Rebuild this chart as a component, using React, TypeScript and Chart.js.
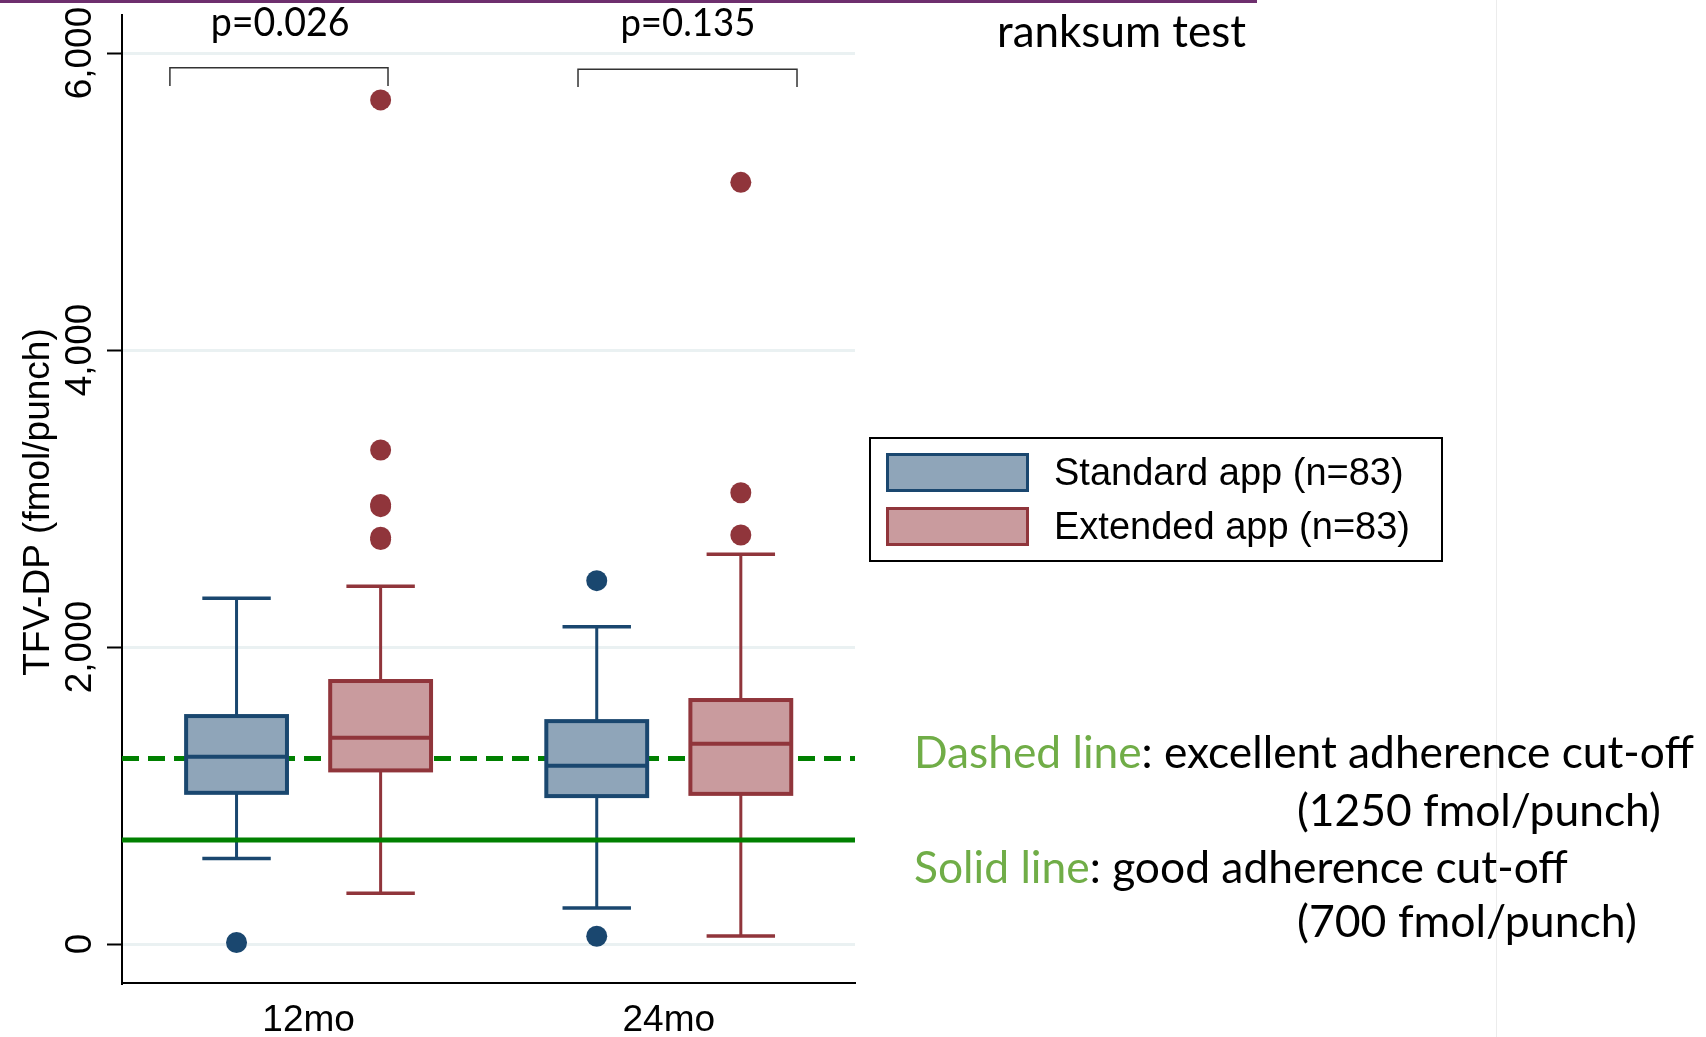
import React, { useEffect, useRef } from 'react';
import { Chart, registerables } from 'chart.js';

Chart.register(...registerables);

// ---------------- data ----------------
const categories = ['12mo', '24mo'];
const seriesLabels = ['Standard app (n=83)', 'Extended app (n=83)'];
const yTickValues = [0, 2000, 4000, 6000];

const standardLowerWhisker = [575, 243];
const standardQ1 = [1018, 996];
const standardMedian = [1261, 1200];
const standardQ3 = [1535, 1501];
const standardUpperWhisker = [2328, 2137];
const standardOutliers12 = [10];
const standardOutliers24 = [2447, 52];

const extendedLowerWhisker = [342, 54];
const extendedQ1 = [1169, 1011];
const extendedMedian = [1389, 1348];
const extendedQ3 = [1771, 1643];
const extendedUpperWhisker = [2409, 2625];
const extendedOutliers12 = [5684, 3327, 2960, 2945, 2739, 2724];
const extendedOutliers24 = [5129, 3039, 2754];

const excellentCutoff = 1250;
const goodCutoff = 700;
const pValueLabels = ['p=0.026', 'p=0.135'];
const testLabel = 'ranksum test';
const yAxisTitle = 'TFV-DP (fmol/punch)';
const noteLines = [
  { green: 'Dashed line', black: ': excellent adherence cut-off' },
  { green: '', black: '(1250 fmol/punch)' },
  { green: 'Solid line', black: ': good adherence cut-off' },
  { green: '', black: '(700 fmol/punch)' },
];

// ---------------- styles / layout ----------------
const STD_FILL = '#8FA5B9';
const STD_LINE = '#1A476F';
const EXT_FILL = '#C99B9E';
const EXT_LINE = '#90353B';
const GREEN = '#008000';
const NOTE_GREEN = '#70AD47';
const ARIAL = '"Liberation Sans", Arial, sans-serif';
const CAL = 'Lato, "Open Sans", sans-serif';

const X_MIN = 0.482;
const X_MAX = 2.517;
const Y_MIN = -262.6;
const Y_MAX = 6256;
const GROUP_OFFSET = [-0.2, 0.2];
const BOX_HALF = 0.14;
const CAP_HALF = 0.095;

const BRACKETS = [
  { x0: 0.615, x1: 1.2205, top: 5900, bottom: 5778 },
  { x0: 1.748, x1: 2.356, top: 5890, bottom: 5771 },
];
const P_POS = [
  { x: 0.921, baseline: 36, width: 139 },
  { x: 2.053, baseline: 36, width: 135 },
];
const NOTE_POS = [
  { x: 914, baseline: 768, width: 780 },
  { x: 1297, baseline: 826, width: 364 },
  { x: 914, baseline: 883, width: 654 },
  { x: 1297, baseline: 937, width: 340 },
];

function fitSize(ctx: CanvasRenderingContext2D, text: string, family: string, width: number) {
  ctx.font = `100px ${family}`;
  const w = ctx.measureText(text).width;
  return (100 * width) / w;
}

function drawBoxes(chart: any) {
  const ctx: CanvasRenderingContext2D = chart.ctx;
  const xs = chart.scales.x;
  const ys = chart.scales.y;
  const unit = xs.getPixelForValue(2) - xs.getPixelForValue(1);
  const groups = [
    { lw: standardLowerWhisker, q1: standardQ1, med: standardMedian, q3: standardQ3, uw: standardUpperWhisker, fill: STD_FILL, line: STD_LINE },
    { lw: extendedLowerWhisker, q1: extendedQ1, med: extendedMedian, q3: extendedQ3, uw: extendedUpperWhisker, fill: EXT_FILL, line: EXT_LINE },
  ];
  categories.forEach((_, i) => {
    groups.forEach((g, s) => {
      const cx = xs.getPixelForValue(i + 1 + GROUP_OFFSET[s]);
      const hw = BOX_HALF * unit;
      const cw = CAP_HALF * unit;
      const pLw = ys.getPixelForValue(g.lw[i]);
      const pQ1 = ys.getPixelForValue(g.q1[i]);
      const pMed = ys.getPixelForValue(g.med[i]);
      const pQ3 = ys.getPixelForValue(g.q3[i]);
      const pUw = ys.getPixelForValue(g.uw[i]);
      ctx.save();
      ctx.strokeStyle = g.line;
      ctx.lineWidth = 3;
      ctx.beginPath();
      ctx.moveTo(cx, pUw);
      ctx.lineTo(cx, pQ3);
      ctx.moveTo(cx, pQ1);
      ctx.lineTo(cx, pLw);
      ctx.stroke();
      ctx.lineWidth = 3.5;
      ctx.beginPath();
      ctx.moveTo(cx - cw, pUw);
      ctx.lineTo(cx + cw, pUw);
      ctx.moveTo(cx - cw, pLw);
      ctx.lineTo(cx + cw, pLw);
      ctx.stroke();
      ctx.fillStyle = g.fill;
      ctx.fillRect(cx - hw, pQ3, 2 * hw, pQ1 - pQ3);
      ctx.lineWidth = 4;
      ctx.strokeRect(cx - hw, pQ3, 2 * hw, pQ1 - pQ3);
      ctx.beginPath();
      ctx.moveTo(cx - hw, pMed);
      ctx.lineTo(cx + hw, pMed);
      ctx.stroke();
      ctx.restore();
    });
  });
}

function drawAnnotations(chart: any) {
  const ctx: CanvasRenderingContext2D = chart.ctx;
  const xs = chart.scales.x;
  const ys = chart.scales.y;
  ctx.save();

  // slide decorations
  ctx.fillStyle = '#6E2F6E';
  ctx.fillRect(0, 0, 1257, 3);
  ctx.fillStyle = '#ECECEC';
  ctx.fillRect(1496, 0, 1, 1037);

  // y tick labels (rotated)
  ctx.fillStyle = '#000';
  ctx.font = `37px ${ARIAL}`;
  ctx.textAlign = 'center';
  ctx.textBaseline = 'alphabetic';
  ys.ticks.forEach((t: any) => {
    const py = ys.getPixelForValue(t.value);
    ctx.save();
    ctx.translate(91, py);
    ctx.rotate(-Math.PI / 2);
    ctx.fillText(Number(t.value).toLocaleString('en-US'), 0, 0);
    ctx.restore();
  });

  // y axis title
  ctx.save();
  ctx.translate(48.5, 502);
  ctx.rotate(-Math.PI / 2);
  ctx.fillText(yAxisTitle, 0, 0);
  ctx.restore();

  // brackets
  ctx.strokeStyle = '#333';
  ctx.lineWidth = 1.5;
  BRACKETS.forEach((b) => {
    const x0 = xs.getPixelForValue(b.x0);
    const x1 = xs.getPixelForValue(b.x1);
    const yt = ys.getPixelForValue(b.top);
    const yb = ys.getPixelForValue(b.bottom);
    ctx.beginPath();
    ctx.moveTo(x0, yb);
    ctx.lineTo(x0, yt);
    ctx.lineTo(x1, yt);
    ctx.lineTo(x1, yb);
    ctx.stroke();
  });

  // p values
  pValueLabels.forEach((txt, i) => {
    const pos = P_POS[i];
    const size = fitSize(ctx, txt, CAL, pos.width);
    ctx.font = `${size}px ${CAL}`;
    ctx.textAlign = 'center';
    ctx.fillStyle = '#000';
    ctx.save();
    ctx.translate(xs.getPixelForValue(pos.x), pos.baseline);
    ctx.scale(1, 1.08);
    ctx.fillText(txt, 0, 0);
    ctx.restore();
  });

  // test label
  {
    const size = fitSize(ctx, testLabel, CAL, 249);
    ctx.font = `${size}px ${CAL}`;
    ctx.textAlign = 'left';
    ctx.fillText(testLabel, 997, 47);
  }

  // legend
  ctx.lineWidth = 2;
  ctx.strokeStyle = '#000';
  ctx.strokeRect(870, 438, 572, 123);
  const sw = [
    { fill: STD_FILL, line: STD_LINE, top: 454.5, base: 485 },
    { fill: EXT_FILL, line: EXT_LINE, top: 508.5, base: 539 },
  ];
  sw.forEach((s, i) => {
    ctx.fillStyle = s.fill;
    ctx.fillRect(887.5, s.top, 140, 36);
    ctx.strokeStyle = s.line;
    ctx.lineWidth = 3;
    ctx.strokeRect(887.5, s.top, 140, 36);
    ctx.fillStyle = '#000';
    ctx.font = `38px ${ARIAL}`;
    ctx.textAlign = 'left';
    ctx.fillText(seriesLabels[i], 1054, s.base);
  });

  // notes
  noteLines.forEach((ln, i) => {
    const pos = NOTE_POS[i];
    const full = ln.green + ln.black;
    const size = fitSize(ctx, full, CAL, pos.width);
    ctx.font = `${size}px ${CAL}`;
    ctx.textAlign = 'left';
    let x = pos.x;
    if (ln.green) {
      ctx.fillStyle = NOTE_GREEN;
      ctx.fillText(ln.green, x, pos.baseline);
      x += ctx.measureText(ln.green).width;
    }
    ctx.fillStyle = '#000';
    ctx.fillText(ln.black, x, pos.baseline);
  });

  ctx.restore();
}

const boxPlugin = {
  id: 'boxplotDraw',
  afterDatasetDraw(chart: any, args: any) {
    if (args.index === 3) drawBoxes(chart);
  },
  afterDraw(chart: any) {
    drawAnnotations(chart);
  },
};

export default function App() {
  const ref = useRef<HTMLCanvasElement>(null);
  useEffect(() => {
    const canvas = ref.current!;
    const extPoints = [
      ...extendedOutliers12.map((v) => ({ x: 1 + GROUP_OFFSET[1], y: v })),
      ...extendedOutliers24.map((v) => ({ x: 2 + GROUP_OFFSET[1], y: v })),
    ];
    const stdPoints = [
      ...standardOutliers12.map((v) => ({ x: 1 + GROUP_OFFSET[0], y: v })),
      ...standardOutliers24.map((v) => ({ x: 2 + GROUP_OFFSET[0], y: v })),
    ];
    const chart = new Chart(canvas, {
      type: 'scatter',
      data: {
        datasets: [
          { label: seriesLabels[1], data: extPoints, pointRadius: 10.5, pointBackgroundColor: EXT_LINE, pointBorderWidth: 0, showLine: false } as any,
          { label: seriesLabels[0], data: stdPoints, pointRadius: 10.5, pointBackgroundColor: STD_LINE, pointBorderWidth: 0, showLine: false } as any,
          { label: 'good', data: [{ x: X_MIN, y: goodCutoff }, { x: X_MAX, y: goodCutoff }], showLine: true, borderColor: GREEN, borderWidth: 5, pointRadius: 0 } as any,
          { label: 'excellent', data: [{ x: X_MIN, y: excellentCutoff }, { x: X_MAX, y: excellentCutoff }], showLine: true, borderColor: GREEN, borderWidth: 5, borderDash: [17, 9], pointRadius: 0 } as any,
        ],
      },
      options: {
        animation: false,
        responsive: false,
        devicePixelRatio: 1,
        layout: { padding: { left: 0, top: 15, right: 851, bottom: 0 } },
        plugins: { legend: { display: false }, tooltip: { enabled: false } },
        scales: {
          x: {
            type: 'linear',
            min: X_MIN,
            max: X_MAX,
            afterBuildTicks: (s: any) => {
              s.ticks = categories.map((_, i) => ({ value: i + 1 }));
            },
            afterFit: (s: any) => {
              s.height = 54;
            },
            ticks: {
              callback: (v: any) => categories[Math.round(Number(v)) - 1] ?? '',
              font: { family: ARIAL, size: 37 },
              color: '#000',
              padding: 16,
              maxRotation: 0,
              autoSkip: false,
            },
            grid: { display: false, drawTicks: false },
            border: { display: true, color: '#000', width: 2 },
          },
          y: {
            type: 'linear',
            min: Y_MIN,
            max: Y_MAX,
            afterBuildTicks: (s: any) => {
              s.ticks = yTickValues.map((v) => ({ value: v }));
            },
            afterFit: (s: any) => {
              s.width = 122;
            },
            ticks: { display: false },
            grid: { color: '#EAF1F2', lineWidth: 3, drawTicks: true, tickLength: 15, tickColor: '#000', tickWidth: 2 },
            border: { display: true, color: '#000', width: 2 },
          },
        },
      },
      plugins: [boxPlugin],
    });
    return () => chart.destroy();
  }, []);
  return (
    <div style={{ position: 'fixed', left: 0, top: 0, width: 1706, height: 1037, background: '#fff' }}>
      <canvas ref={ref} width={1706} height={1037} style={{ display: 'block' }} />
    </div>
  );
}
